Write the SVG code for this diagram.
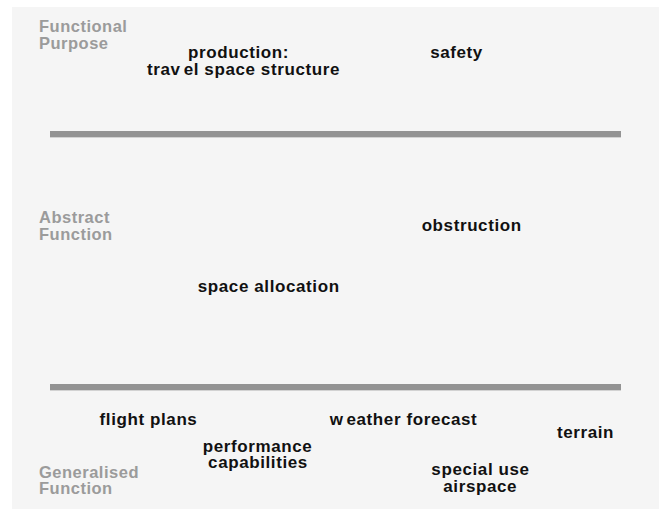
<svg xmlns="http://www.w3.org/2000/svg" width="659" height="509" viewBox="0 0 659 509">
  <style>
    .bg { fill: #f5f5f5; }
    .lvl { font-family: "Liberation Sans", Arial, sans-serif; font-size: 16.5px; font-weight: bold; fill: #9b9b9b; letter-spacing: 0.5px; }
    .node { font-family: "Liberation Sans", Arial, sans-serif; font-size: 17px; font-weight: bold; fill: #111111; letter-spacing: 0.6px; text-anchor: middle; }
    .bar { fill: #939393; }
    .barEdge { fill: #d2d2d2; }
  </style>
  <rect x="0" y="0" width="659" height="509" fill="#ffffff"/>
  <rect class="bg" x="12" y="7" width="647" height="502"/>

  <g id="dividers">
    <rect class="bar" x="50" y="131" width="571" height="6"/>
    <rect class="barEdge" x="50" y="137" width="571" height="1"/>
    <rect class="bar" x="50" y="384" width="571" height="6"/>
    <rect class="barEdge" x="50" y="390" width="571" height="1"/>
  </g>

  <g id="level-labels">
    <text class="lvl" x="39" y="32">Functional</text>
    <text class="lvl" x="39" y="48.5">Purpose</text>
    <text class="lvl" x="39" y="223">Abstract</text>
    <text class="lvl" x="39" y="239.5">Function</text>
    <text class="lvl" x="39" y="477.5">Generalised</text>
    <text class="lvl" x="39" y="494">Function</text>
  </g>

  <g id="connectors"></g>

  <g id="node-production">
    <text class="node" x="238.5" y="57.5">production:</text>
    <text class="node" x="243.5" y="74.5">trav<tspan dx="3">el</tspan> space structure</text>
  </g>
  <g id="node-safety">
    <text class="node" x="456.5" y="57.5">safety</text>
  </g>
  <g id="node-obstruction">
    <text class="node" x="471.7" y="230.7">obstruction</text>
  </g>
  <g id="node-space-allocation">
    <text class="node" x="268.7" y="291.7">space allocation</text>
  </g>
  <g id="node-flight-plans">
    <text class="node" x="148.5" y="425">flight plans</text>
  </g>
  <g id="node-performance">
    <text class="node" x="257.5" y="451.7">performance</text>
    <text class="node" x="258" y="468.3">capabilities</text>
  </g>
  <g id="node-weather">
    <text class="node" x="403.5" y="425">w<tspan dx="3">eather</tspan> forecast</text>
  </g>
  <g id="node-terrain">
    <text class="node" x="585.5" y="437.7">terrain</text>
  </g>
  <g id="node-special-use">
    <text class="node" x="480.5" y="475.3">special use</text>
    <text class="node" x="480.2" y="492">airspace</text>
  </g>
</svg>
